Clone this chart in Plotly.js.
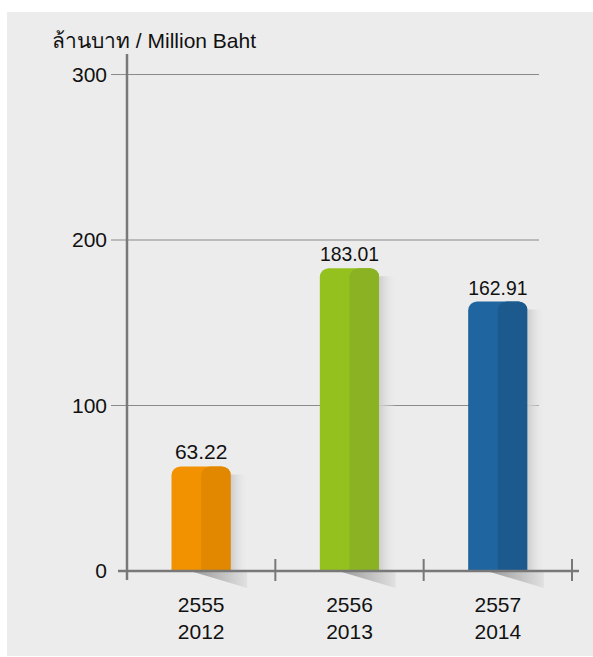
<!DOCTYPE html>
<html>
<head>
<meta charset="utf-8">
<script src="https://cdn.plot.ly/plotly-3.0.1.min.js"></script>
<style>
  html, body { margin: 0; padding: 0; background: #ffffff; }
  #chart { position: absolute; left: 7px; top: 12px; width: 586px; height: 644px; }
</style>
</head>
<body>
<div id="chart"></div>
<script>
// ---- data ----
const thaiYears = ['2555', '2556', '2557'];
const gregYears = ['2012', '2013', '2014'];
const values = [63.22, 183.01, 162.91];
const valueLabels = ['63.22', '183.01', '162.91'];
const yTicks = [0, 100, 200, 300];
const unitLabel = 'ล้านบาท / Million Baht';

// ---- styles ----
const lightColors = ['#F39200', '#95C11F', '#1F65A0'];
const darkColors  = ['#E28800', '#8AB223', '#1C5A8E'];
const FONT = '"Liberation Sans", Arial, "Noto Sans", "DejaVu Sans", sans-serif';
const FS = 21;
const bg = '#ececec';
const axisColor = '#787878';

const idx = values.map((_, i) => i);
const tickText = thaiYears.map((t, i) => t + '<br>' + gregYears[i]);

const XR = [-0.6146, 2.5539];
const YR = [-11.48, 312.4];
const pxX = 3.1685 / 470;
const pxY = 323.88 / 536;

const traces = [];

// shadows (decorative), derived from data
idx.forEach(i => {
  const v = values[i];
  const x0 = i + 0.2, x1 = i + 0.2 + 18 * pxX;
  traces.push({
    type: 'scatter', mode: 'none', hoverinfo: 'skip', showlegend: false,
    x: [x0, x1, x1, x0, x0],
    y: [v - 8 * pxY, v - 8 * pxY, 0, 0, v - 8 * pxY],
    fill: 'toself',
    fillgradient: { type: 'horizontal', start: x0, stop: x1,
      colorscale: [[0, 'rgba(205,205,205,1)'], [1, 'rgba(236,236,236,0)']] }
  });
  const w0 = i - 11 * pxX, w1 = i + 46 * pxX;
  traces.push({
    type: 'scatter', mode: 'none', hoverinfo: 'skip', showlegend: false,
    x: [w0, w1, w1, w0],
    y: [0, 0, -17 * pxY, 0],
    fill: 'toself',
    fillgradient: { type: 'horizontal', start: w0, stop: w1,
      colorscale: [[0, 'rgba(150,150,150,1)'], [1, 'rgba(225,225,225,1)']] }
  });
});

// bars: full light bar + dark right half
traces.push({
  type: 'bar', x: idx, y: values, width: 0.4,
  marker: { color: lightColors, cornerradius: 9, line: { width: 0 } },
  text: valueLabels, textposition: 'outside', cliponaxis: false,
  textfont: { family: FONT, size: FS, color: '#111' },
  hoverinfo: 'skip', showlegend: false
});
traces.push({
  type: 'bar', x: idx, y: values, width: 0.2, offset: 0,
  marker: { color: darkColors, cornerradius: 9, line: { width: 0 } },
  hoverinfo: 'skip', showlegend: false
});

// axis decorations
const shapes = [];
yTicks.filter(t => t > 0).forEach(t => {
  shapes.push({ type: 'line', layer: 'below', xref: 'x', yref: 'y',
    x0: -0.5 - 16 * pxX, x1: -0.5 + 412 * pxX, y0: t, y1: t,
    line: { color: '#8a8a8a', width: 1 } });
});
shapes.push({ type: 'line', layer: 'above', xref: 'x', yref: 'y',
  x0: -0.5, x1: -0.5, y0: -9 * pxY, y1: YR[1],
  line: { color: axisColor, width: 2.5 } });
shapes.push({ type: 'line', layer: 'above', xref: 'x', yref: 'y',
  x0: -0.5 - 9 * pxX, x1: 2.5 + 7 * pxX, y0: 0, y1: 0,
  line: { color: axisColor, width: 2.5 } });
[0.5, 1.5, 2.5].forEach(xb => {
  shapes.push({ type: 'line', layer: 'above', xref: 'x', yref: 'y',
    x0: xb, x1: xb, y0: 12 * pxY, y1: -10 * pxY,
    line: { color: axisColor, width: 2 } });
});

const layout = {
  width: 586, height: 644,
  margin: { l: 103, r: 13, t: 42, b: 66 },
  paper_bgcolor: bg, plot_bgcolor: bg,
  barmode: 'overlay',
  font: { family: FONT, size: FS, color: '#111' },
  xaxis: {
    range: XR, fixedrange: true, showgrid: false, zeroline: false, showline: false,
    tickmode: 'array', tickvals: idx, ticktext: tickText, ticks: '',
    tickfont: { family: FONT, size: FS, color: '#111' }, ticklabelstandoff: 0
  },
  yaxis: {
    range: YR, fixedrange: true, showgrid: false, zeroline: false, showline: false,
    tickmode: 'array', tickvals: yTicks, ticktext: yTicks.map(String), ticks: '',
    tickfont: { family: FONT, size: FS, color: '#111' }, ticklabelstandoff: 2
  },
  shapes: shapes,
  annotations: [{
    text: unitLabel, xref: 'paper', yref: 'paper',
    x: -0.1277, y: 1.026, xanchor: 'left', yanchor: 'middle', showarrow: false,
    font: { family: FONT, size: FS, color: '#111' }
  }]
};

Plotly.newPlot('chart', traces, layout, { displayModeBar: false, staticPlot: true });
</script>
</body>
</html>
